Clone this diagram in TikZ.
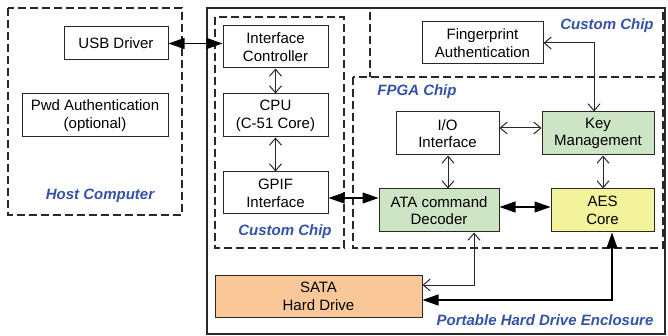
\documentclass[tikz,border=0pt]{standalone}
\usepackage{fontspec}
\setmainfont{Liberation Sans}
\usetikzlibrary{arrows.meta}
\definecolor{kgreen}{RGB}{205,228,197}
\definecolor{kyellow}{RGB}{243,243,155}
\definecolor{korange}{RGB}{250,200,152}
\definecolor{kblue}{RGB}{51,82,168}
\definecolor{kline}{RGB}{40,40,40}
\tikzset{
  blk/.style={draw=kline, line width=1pt, align=center, inner sep=0pt, font=\fontsize{15}{17.7}\selectfont},
  grp/.style={draw=kline, line width=1.2pt, dash pattern=on 8pt off 4pt},
  lbl/.style={text=kblue, font=\fontsize{15}{17.7}\selectfont\bfseries\itshape},
  barbline/.style={draw=kline, line width=1pt, >={Straight Barb[length=7pt,width=12pt]}, <->},
  boldline/.style={draw=black, line width=1.2pt, >={Triangle[length=16pt,width=11pt]}, <->},
}
\begin{document}
\begin{tikzpicture}[x=1pt,y=-1pt]
\useasboundingbox (0,0) rectangle (668,336);
% containers
\draw[grp] (8,8) rectangle (182,215);
\draw[draw=kline, line width=1.5pt] (207,8) rectangle (665,334);
\draw[grp] (215,17) rectangle (344,248);
\draw[grp] (370,12) -- (370,77);
\draw[grp] (663,12) -- (663,77);
\draw[grp] (353,77) rectangle (663,248);
% labels
\node[lbl] (lhost) at (100,196) {Host Computer};
\node[lbl] (lcc1) at (285,232) {Custom Chip};
\node[lbl] (lcc2) at (607,26) {Custom Chip};
\node[lbl] (lfpga) at (417,92) {FPGA Chip};
\node[lbl] (lenc) at (545,320) {Portable Hard Drive Enclosure};
% blocks
\node[blk, minimum width=104pt, minimum height=33pt] (usb) at (116,43.5) {USB Driver};
\node[blk, minimum width=146pt, minimum height=43pt] (pwd) at (95,115.5) {Pwd Authentication\\(optional)};
\node[blk, minimum width=105pt, minimum height=42pt] (ic) at (275.5,47) {Interface\\Controller};
\node[blk, minimum width=105pt, minimum height=43pt] (cpu) at (275.5,115.5) {CPU\\(C-51 Core)};
\node[blk, minimum width=105pt, minimum height=42pt] (gpif) at (275.5,193) {GPIF\\Interface};
\node[blk, minimum width=121pt, minimum height=42pt] (fp) at (482.5,43) {Fingerprint\\Authentication};
\node[blk, minimum width=103pt, minimum height=43pt] (io) at (447.5,133.5) {I/O\\Interface};
\node[blk, fill=kgreen, minimum width=112pt, minimum height=43pt] (key) at (598,133.5) {Key\\Management};
\node[blk, fill=kgreen, minimum width=120pt, minimum height=43pt] (ata) at (439,210.5) {ATA command\\Decoder};
\node[blk, fill=kyellow, minimum width=103pt, minimum height=43pt] (aes) at (602.5,210.5) {AES\\Core};
\node[blk, fill=korange, minimum width=207pt, minimum height=42pt] (sata) at (318.5,296) {SATA\\Hard Drive};
% connectors
\draw[boldline] (usb.east) -- (ic.west |- usb.east);
\draw[barbline] (ic.south) -- (cpu.north);
\draw[barbline] (cpu.south) -- (gpif.north);
\draw[boldline] (gpif.east |- 0,198) -- (ata.west |- 0,198);
\draw[boldline] (ata.east |- 0,207) -- (aes.west |- 0,207);
\draw[barbline] (io.east |- 0,128) -- (key.west |- 0,128);
\draw[barbline] (fp.east) -| (594,0 |- key.north);
\draw[barbline] (448,0 |- io.south) -- (448,0 |- ata.north);
\draw[barbline] (603,0 |- key.south) -- (603,0 |- aes.north);
\draw[barbline] (474,0 |- ata.south) |- (sata.east |- 0,285);
\draw[boldline] (612,0 |- aes.south) |- (sata.east |- 0,300);
\end{tikzpicture}
\end{document}
